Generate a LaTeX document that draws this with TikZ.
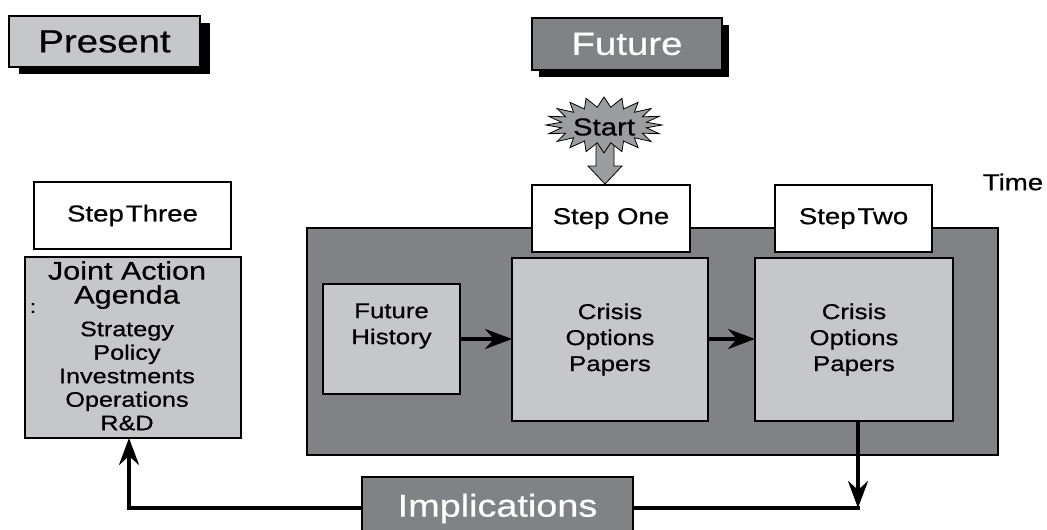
\documentclass[tikz,border=0pt]{standalone}
\usepackage{fontspec}
\setmainfont{Liberation Sans}[FakeStretch=1.2,FakeBold=0.6]
\usetikzlibrary{arrows.meta,calc,shadows}
\definecolor{lightbox}{HTML}{C6C7C9}
\definecolor{darkbox}{HTML}{808285}
\definecolor{burst}{HTML}{9C9DA0}

\begin{document}
\begin{tikzpicture}[x=1pt,y=-1pt,
  box/.style={draw=black,line width=1.6pt,inner sep=0pt,outer sep=0pt},
  lightfill/.style={box,fill=lightbox},
  darkfill/.style={box,fill=darkbox},
  whitefill/.style={box,fill=white},
  tagshadow/.style={drop shadow={shadow xshift=#1,shadow yshift=-7pt,fill=black,opacity=1}},
  huge text/.style={font=\fontsize{32}{36}\selectfont},
  big text/.style={font=\fontsize{25.5}{24}\selectfont,align=center},
  mid text/.style={font=\fontsize{23}{26}\selectfont,align=center},
  small text/.style={font=\fontsize{21.5}{26}\selectfont,align=center},
  list text/.style={font=\fontsize{21}{23.5}\selectfont,align=center},
  conn/.style={line width=4pt,-{Stealth[length=27pt,width=20pt,inset=9pt]}},
  plain/.style={line width=4pt}]
\clip (0,0) rectangle (1047,530);
\fill[white] (0,0) rectangle (1047,530);

% header tags
\node[lightfill,tagshadow=10pt,minimum width=191pt,minimum height=51pt,huge text] (present) at (104.5,41.5) {Present};
\node[darkfill,tagshadow=7pt,minimum width=190pt,minimum height=52pt,huge text,text=white] (future) at (627,44) {Future};

% time frame and its contents
\node[darkfill,minimum width=691pt,minimum height=227pt] (frame) at (652.5,341.5) {};
\node[whitefill,minimum width=158pt,minimum height=67pt,mid text] (stepone) at (611,218.5) {Step One};
\node[whitefill,minimum width=157pt,minimum height=67pt,mid text] (steptwo) at (853.5,218.5) {Step\hspace{2pt}Two};
\node[lightfill,minimum width=196pt,minimum height=163pt,small text] (crisisA) at (610,339.5) {Crisis\\Options\\Papers};
\node[lightfill,minimum width=198pt,minimum height=163pt,small text] (crisisB) at (854,339.5) {Crisis\\Options\\Papers};
\node[lightfill,minimum width=137pt,minimum height=110pt] (history) at (391.5,339) {};
\node[small text] (historytext) at ($(history)+(0,-13)$) {Future\\History};

\node[mid text] (time) at (1013,182) {Time};

% start burst with its block arrow
\coordinate (tip) at ($(stepone.north)+(-6,-1)$);
\draw[fill=burst,line width=0.8pt] ($(tip)+(-9,-43)$) -- ($(tip)+(-9,-18)$) -- ($(tip)+(-17,-18)$)
  -- (tip) -- ($(tip)+(17,-18)$) -- ($(tip)+(9,-18)$) -- ($(tip)+(9,-43)$);
\coordinate (burstc) at (604,125);
\draw[fill=burst,line width=0.8pt,shift={(burstc)}]
  plot[samples=41,domain=0:40,variable=\k]
  ({(mod(\k,2)==0 ? 58 : 43)*cos(\k*9)},{(mod(\k,2)==0 ? 28 : 18)*sin(\k*9)}) -- cycle;
\node[font=\fontsize{24.5}{28}\selectfont] (start) at (604,127) {Start};

% present side
\node[whitefill,minimum width=197pt,minimum height=67pt,mid text] (stepthree) at (132.5,215.5) {Step\hspace{2pt}Three};
\node[lightfill,minimum width=216pt,minimum height=181pt] (agenda) at (133,347.5) {};
\node[big text] (agendatitle) at (127,285) {Joint Action\\Agenda};
\node[list text] (agendalist) at (127,376) {Strategy\\Policy\\Investments\\Operations\\R\&D};
\node[font=\fontsize{18}{20}\selectfont] (colon) at (33,308) {:};

% feedback
\node[darkfill,minimum width=271pt,minimum height=63pt,font=\fontsize{31.5}{34}\selectfont,text=white] (impl) at (497.5,508.5) {Implications};

% connectors
\draw[conn] (history.east) -- (history.east -| crisisA.west);
\draw[conn] (crisisA.east |- history.east) -- (crisisB.west |- history.east);
\coordinate (drop) at (858,508);
\coordinate (rise) at (129,508);
\draw[conn] (crisisB.south -| drop) -- (drop);
\draw[plain] (impl.east |- drop) -- ($(drop)+(2,0)$);
\draw[conn,line join=miter] (impl.west |- rise) -- (rise) -- (rise |- agenda.south);
\end{tikzpicture}
\end{document}
